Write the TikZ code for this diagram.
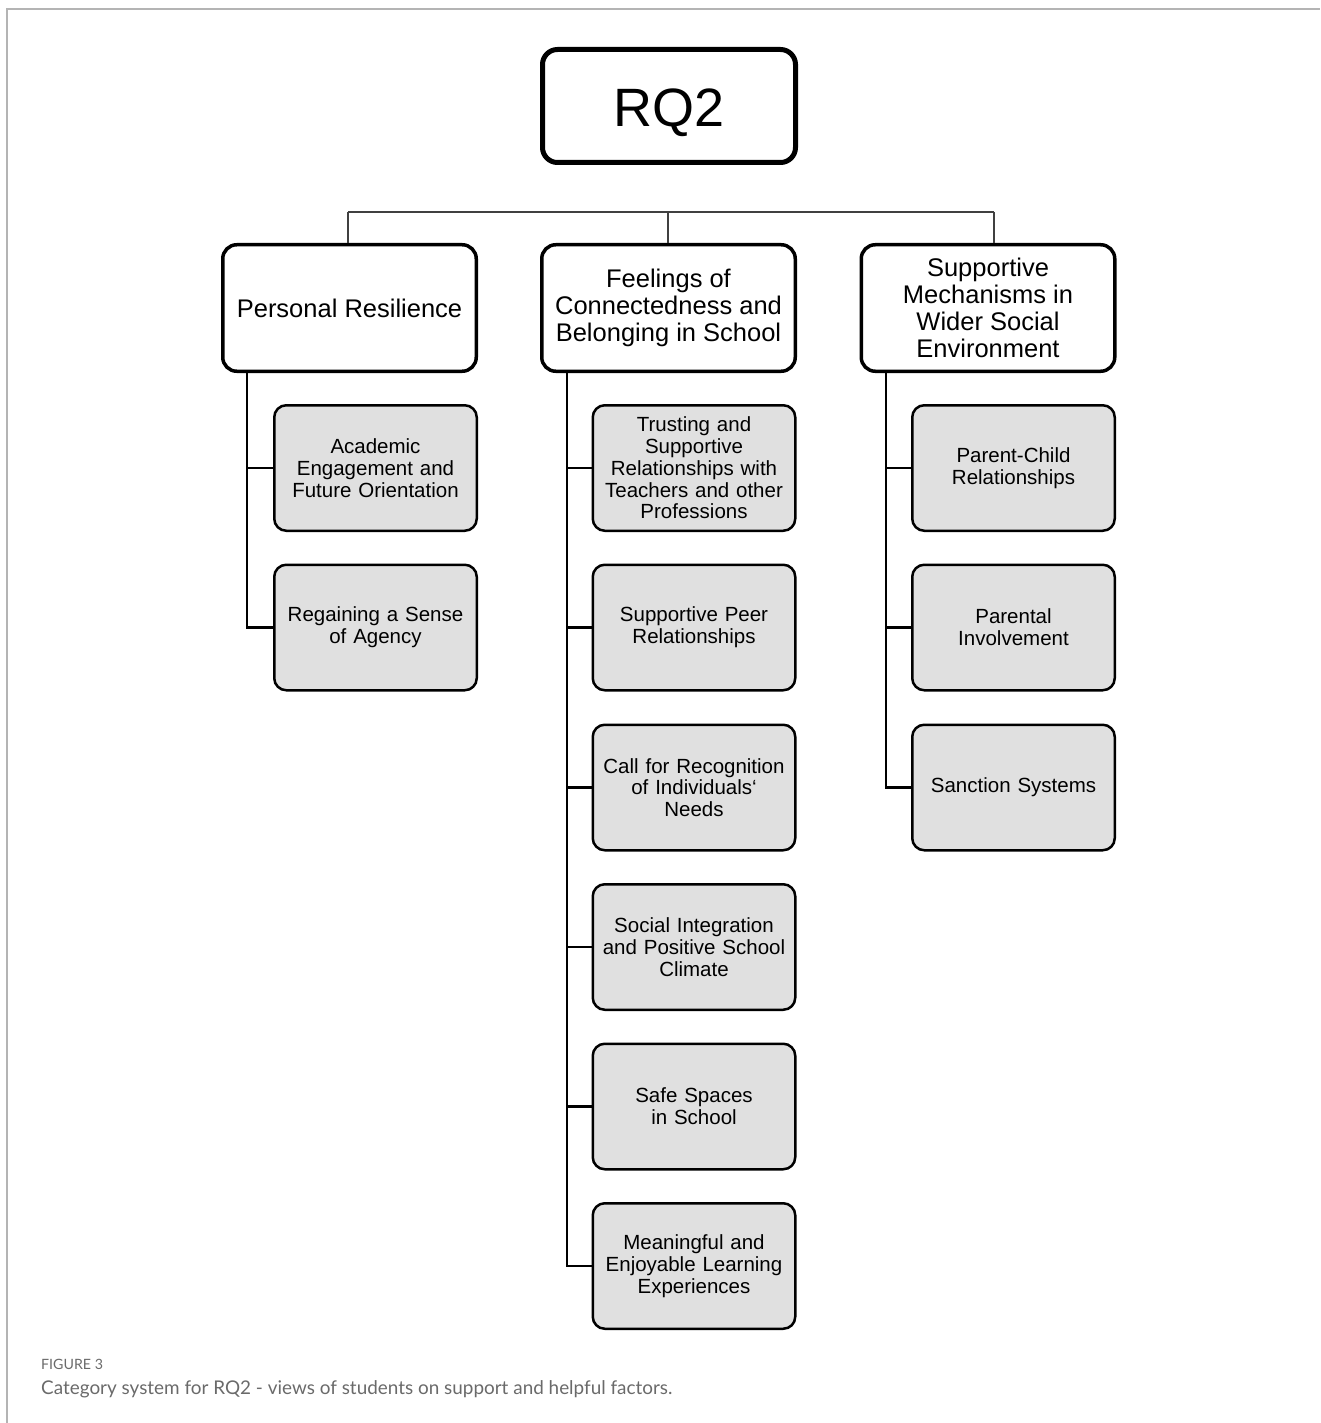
\documentclass[tikz,border=0pt]{standalone}
\usepackage{fontspec}
\setmainfont{Liberation Sans}
\newfontfamily\capfont{Lato}
\definecolor{boxgray}{HTML}{E0E0E0}
\definecolor{framegray}{HTML}{B4B4B4}
\definecolor{capgray}{HTML}{6A6A6A}
\begin{document}
\begin{tikzpicture}[x=1pt,y=-1pt,
  rootbox/.style={draw=black,line width=5pt,rounded corners=15pt,minimum width=253pt,minimum height=113pt,inner sep=0pt,text height=42pt,text depth=0pt,align=center,font=\fontsize{54}{58}\selectfont},
  catbox/.style={draw=black,line width=3.5pt,rounded corners=14pt,minimum width=253.5pt,minimum height=126.5pt,inner sep=0pt,align=center,font=\fontsize{25.5}{27}\selectfont},
  subbox/.style={draw=black,fill=boxgray,line width=2.5pt,rounded corners=12pt,minimum width=202.5pt,minimum height=125.5pt,text width=196pt,inner sep=0pt,align=center,font=\fontsize{20.5}{21.8}\selectfont},
  topline/.style={draw=black!75,line width=1.3pt},
  trunk/.style={draw=black,line width=2.5pt}]
\useasboundingbox (0,0) rectangle (1320,1423);
% frame
\draw[framegray,line width=1.5pt] (7,1423) -- (7,9) -- (1320,9);
% root
\node[rootbox] (rq) at (669,106) {RQ2};
% categories
\node[catbox] (pr) at (349.5,308) {Personal Resilience};
\node[catbox] (fc) at (668.5,308) {Feelings of\\Connectedness and\\Belonging in School};
\node[catbox] (sm) at (988,308) {Supportive\\Mechanisms in\\Wider Social\\Environment};
% top connectors
\coordinate (t1) at (348,212);
\coordinate (t2) at (668,212);
\coordinate (t3) at (994,212);
\draw[topline] (t1) -- (t3);
\draw[topline] (t1) -- (t1 |- pr.north);
\draw[topline] (t2) -- (t2 |- fc.north);
\draw[topline] (t3) -- (t3 |- sm.north);
% left column
\node[subbox] (a1) at (375.5,468) {Academic\\Engagement and\\Future Orientation};
\node[subbox] (a2) at (375.5,627.5) {Regaining a Sense\\of Agency};
% middle column
\node[subbox] (b1) at (694,468) {Trusting and\\Supportive\\Relationships with\\Teachers and other\\Professions};
\node[subbox] (b2) at (694,627.5) {Supportive Peer\\Relationships};
\node[subbox] (b3) at (694,787.5) {Call for Recognition\\of Individuals‘\\Needs};
\node[subbox] (b4) at (694,947) {Social Integration\\and Positive School\\Climate};
\node[subbox] (b5) at (694,1106.5) {Safe Spaces\\in School};
\node[subbox] (b6) at (694,1266) {Meaningful and\\Enjoyable Learning\\Experiences};
% right column
\node[subbox] (c1) at (1013.5,468) {Parent-Child\\Relationships};
\node[subbox] (c2) at (1013.5,627.5) {Parental\\Involvement};
\node[subbox] (c3) at (1013.5,787.5) {Sanction Systems};
% trunks
\coordinate (ta) at (247,373);
\coordinate (tb) at (567,373);
\coordinate (tc) at (886,373);
\draw[trunk] (ta |- pr.south) |- (a2.west);
\draw[trunk] (a1.west -| ta) -- (a1.west);
\draw[trunk] (tb |- fc.south) |- (b6.west);
\foreach \n in {b1,b2,b3,b4,b5} \draw[trunk] (\n.west -| tb) -- (\n.west);
\draw[trunk] (tc |- sm.south) |- (c3.west);
\foreach \n in {c1,c2} \draw[trunk] (\n.west -| tc) -- (\n.west);
% caption
\node[anchor=base west,inner sep=0pt,text=capgray,font=\capfont\fontsize{14.2}{16}\selectfont] (fig) at (41,1369) {FIGURE 3};
\node[anchor=base west,inner sep=0pt,text=capgray,font=\capfont\fontsize{18.9}{20}\selectfont] (cap) at (41,1394) {Category system for RQ2 - views of students on support and helpful factors.};
\end{tikzpicture}
\end{document}
